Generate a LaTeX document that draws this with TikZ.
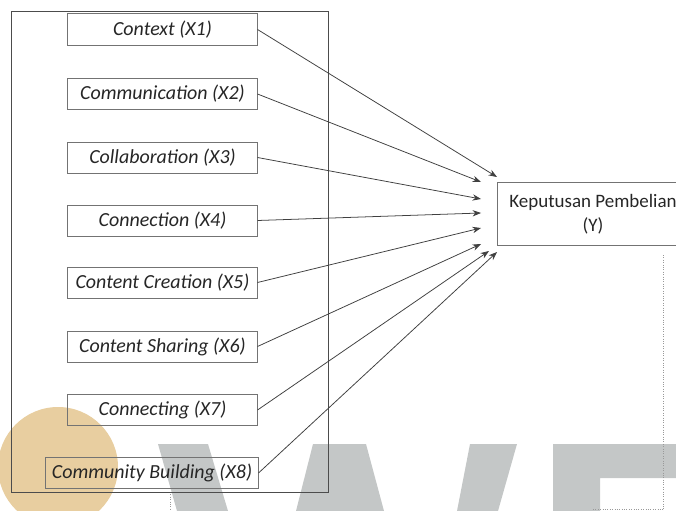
\documentclass[tikz,border=0pt]{standalone}
\usepackage{fontspec}
\setmainfont{Carlito}
\usetikzlibrary{arrows.meta}
\definecolor{wmtan}{RGB}{232,206,160}
\definecolor{wmgray}{RGB}{196,199,199}

\begin{document}
\begin{tikzpicture}[x=0.025cm,y=-0.025cm,
    var/.style={draw=black!55,line width=0.7pt,minimum width=4.725cm,minimum height=0.775cm,inner sep=0pt,
        font=\fontsize{14.2}{16}\selectfont\itshape,text=black!85},
    varwide/.style={var,minimum width=5.3cm},
    target/.style={draw=black!55,line width=0.7pt,minimum width=4.75cm,minimum height=1.55cm,inner sep=0pt,
        align=center,font=\fontsize{13.5}{17}\selectfont,text=black!85},
    link/.style={draw=black!75,line width=0.55pt,-{Stealth[length=6pt,width=4.5pt]}},
    guide/.style={draw=black!40,densely dotted,line width=0.7pt}]
    \useasboundingbox (0,0) rectangle (676,511);

    % watermark
    \fill[wmtan] (58,467) circle (60);
    \fill[wmgray] (158,444) -- (208,444) -- (228,511) -- (177,511) -- cycle;
    \fill[wmgray] (313,444) -- (366,444) -- (384,511) -- (296,511) -- cycle;
    \fill[wmgray] (470,444) -- (517,444) -- (498,511) -- (457,511) -- cycle;
    \fill[wmgray] (553,444) -- (676,444) -- (676,478) -- (600,478) -- (600,511) -- (553,511) -- cycle;

    \draw[guide] (170,492) -- (170,511);
    \draw[guide] (663,255) -- (663,511) (593,509) -- (663,509);

    \draw[black!70,line width=0.6pt] (11,11) rectangle (328,492);

    \node (x1) at (162.5,29.5) [var] {Context (X1)};
    \node (x2) at (162.5,94) [var] {Communication (X2)};
    \node (x3) at (162.5,157.5) [var] {Collaboration (X3)};
    \node (x4) at (162.5,220.5) [var] {Connection (X4)};
    \node (x5) at (162.5,282.5) [var] {Content Creation (X5)};
    \node (x6) at (162.5,346.5) [var] {Content Sharing (X6)};
    \node (x7) at (162.5,410) [var] {Connecting (X7)};
    \node (x8) at (152,473) [varwide] {Community Building (X8)};

    \node (y) at (593,214) [target] {Keputusan Pembelian\\(Y)};

    \coordinate (t1) at (497,177);
    \coordinate (t2) at (481,182);
    \coordinate (t3) at (481,199);
    \coordinate (t4) at (481,213);
    \coordinate (t5) at (481,228);
    \coordinate (t6) at (481,244);
    \coordinate (t7) at (489,251);
    \coordinate (t8) at (497,252);

    \draw[link] (x1.east) -- (t1);
    \draw[link] (x2.east) -- (t2);
    \draw[link] (x3.east) -- (t3);
    \draw[link] (x4.east) -- (t4);
    \draw[link] (x5.east) -- (t5);
    \draw[link] (x6.east) -- (t6);
    \draw[link] (x7.east) -- (t7);
    \draw[link] (x8.east) -- (t8);

\end{tikzpicture}
\end{document}
